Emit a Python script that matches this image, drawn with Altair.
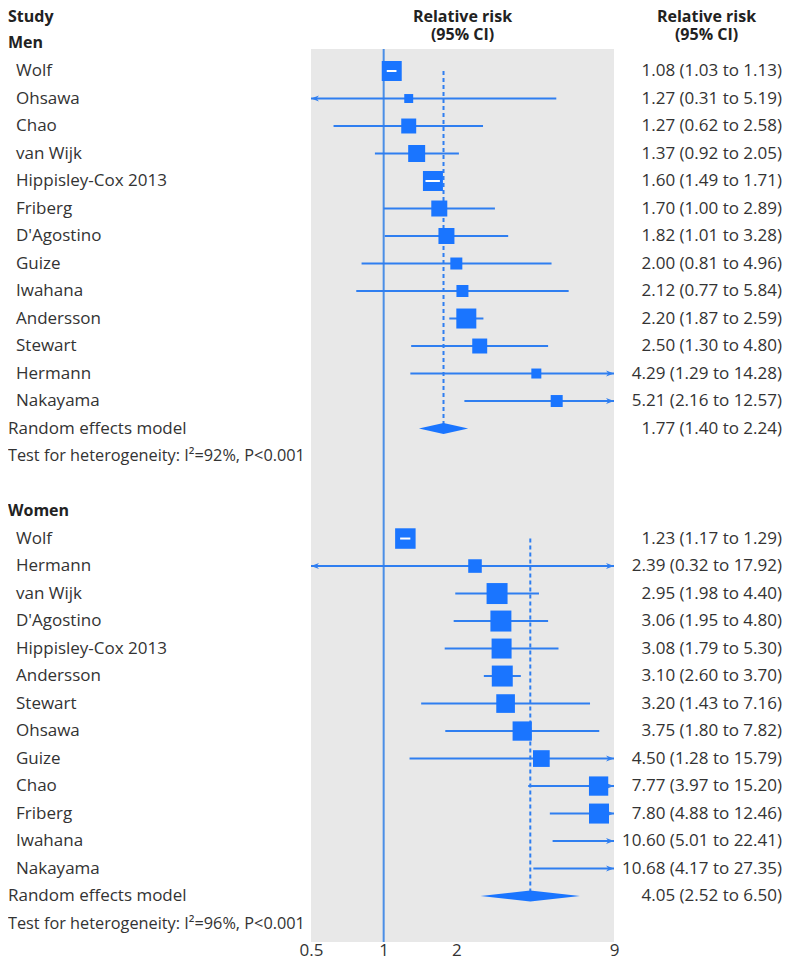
import math
import altair as alt
import pandas as pd

FONT = "Open Sans"
FS = 17
FSB = 16
FS_HET = 16.3

# ---------------- data ----------------
men_studies = ["Wolf", "Ohsawa", "Chao", "van Wijk", "Hippisley-Cox 2013", "Friberg",
               "D'Agostino", "Guize", "Iwahana", "Andersson", "Stewart", "Hermann", "Nakayama"]
men_rr = [1.08, 1.27, 1.27, 1.37, 1.60, 1.70, 1.82, 2.00, 2.12, 2.20, 2.50, 4.29, 5.21]
men_lo = [1.03, 0.31, 0.62, 0.92, 1.49, 1.00, 1.01, 0.81, 0.77, 1.87, 1.30, 1.29, 2.16]
men_hi = [1.13, 5.19, 2.58, 2.05, 1.71, 2.89, 3.28, 4.96, 5.84, 2.59, 4.80, 14.28, 12.57]
men_weight = [10.0, 2.0, 5.6, 7.2, 10.0, 6.4, 6.4, 3.6, 3.6, 10.0, 5.6, 2.5, 3.6]

women_studies = ["Wolf", "Hermann", "van Wijk", "D'Agostino", "Hippisley-Cox 2013", "Andersson",
                 "Stewart", "Ohsawa", "Guize", "Chao", "Friberg", "Iwahana", "Nakayama"]
women_rr = [1.23, 2.39, 2.95, 3.06, 3.08, 3.10, 3.20, 3.75, 4.50, 7.77, 7.80, 10.60, 10.68]
women_lo = [1.17, 0.32, 1.98, 1.95, 1.79, 2.60, 1.43, 1.80, 1.28, 3.97, 4.88, 5.01, 4.17]
women_hi = [1.29, 17.92, 4.40, 4.80, 5.30, 3.70, 7.16, 7.82, 15.79, 15.20, 12.46, 22.41, 27.35]
women_weight = [10.5, 4.6, 11.0, 11.0, 10.0, 11.0, 8.7, 9.3, 7.0, 9.3, 10.0, 6.0, 5.0]

groups = ["Men", "Women"]
pooled_rr = [1.77, 4.05]
pooled_lo = [1.40, 2.52]
pooled_hi = [2.24, 6.50]
het_text = ["Test for heterogeneity: I\u00b2=92%, P<0.001",
            "Test for heterogeneity: I\u00b2=96%, P<0.001"]
col_headers = ["Study", "Relative risk", "(95% CI)"]
axis_ticks = [0.5, 1, 2, 9]
x_domain = [0.5, 9]

# ---------------- layout constants ----------------
LEFT_W, MID_W, RIGHT_W, H = 303, 303, 168, 932
Y_DOMAIN = [-2.218, 31.67]
GREY_ROWS = [-0.8, 31.67]
HEAD_ROWS = [-1.97, -1.31]
SIZE_MAX_W, SIZE_MAX_AREA = 10.0, 400.0
PX_PER_LOG = MID_W / math.log(x_domain[1] / x_domain[0])

# ---------------- tables ----------------
label_rows, study_rows, pooled_rows, diamond_rows = [], [], [], []
r = -1
group_data = [
    (men_studies, men_rr, men_lo, men_hi, men_weight),
    (women_studies, women_rr, women_lo, women_hi, women_weight),
]
for gi, (names, rrs, los, his, ws) in enumerate(group_data):
    g = groups[gi]
    label_rows.append(dict(row=r, label=g, kind="header"))
    r += 1
    first = r
    for n, rr, lo, hi, w in zip(names, rrs, los, his, ws):
        side = math.sqrt(SIZE_MAX_AREA * w / SIZE_MAX_W)
        inside = math.log(hi / lo) * PX_PER_LOG < side - 2
        study_rows.append(dict(row=r, group=g, rr=rr, lo=lo, hi=hi, weight=w,
                               inside=inside,
                               txt=f"{rr:.2f} ({lo:.2f} to {hi:.2f})"))
        label_rows.append(dict(row=r, label=n, kind="study"))
        r += 1
    pooled_rows.append(dict(row=r, top=first, group=g, rr=pooled_rr[gi], lo=pooled_lo[gi],
                            hi=pooled_hi[gi],
                            txt=f"{pooled_rr[gi]:.2f} ({pooled_lo[gi]:.2f} to {pooled_hi[gi]:.2f})"))
    for xv, dy in [(pooled_lo[gi], 0.0), (pooled_rr[gi], 0.2), (pooled_hi[gi], 0.0)]:
        diamond_rows.append(dict(group=g, x=xv, y1=r - dy, y2=r + dy))
    label_rows.append(dict(row=r, label="Random effects model", kind="summary"))
    r += 1
    label_rows.append(dict(row=r, label=het_text[gi], kind="het"))
    r += 2

labels = pd.DataFrame(label_rows)
studies = pd.DataFrame(study_rows)
pooled = pd.DataFrame(pooled_rows)
diamonds = pd.DataFrame(diamond_rows)
heads_left = pd.DataFrame({"row": [HEAD_ROWS[0]], "label": [col_headers[0]]})
heads_rr = pd.DataFrame({"row": HEAD_ROWS, "label": col_headers[1:]})
grey = pd.DataFrame({"y1": [GREY_ROWS[0]], "y2": [GREY_ROWS[1]]})

BLUE = "#1a75ff"
LINE = "#2f7ef0"
NULL = "#4a8ee6"
TXT = "#333333"
HEAD = "#222222"

yscale = alt.Scale(domain=Y_DOMAIN, reverse=True, nice=False, zero=False)
xscale = alt.Scale(type="log", domain=x_domain, clamp=True, nice=False)


def Y(field="row"):
    return alt.Y(f"{field}:Q", scale=yscale, axis=None)


def head_text(df, xpos, align):
    return alt.Chart(df).mark_text(
        align=align, baseline="middle", font=FONT, fontSize=FSB, fontWeight="bold", color=HEAD
    ).encode(x=alt.value(xpos), y=Y(), text="label:N")


# ---------------- left panel ----------------
lt = alt.Chart(labels)
left = alt.layer(
    head_text(heads_left, 0, "left"),
    lt.transform_filter("datum.kind == 'header'").mark_text(
        align="left", baseline="middle", font=FONT, fontSize=FSB, fontWeight="bold", color=HEAD
    ).encode(x=alt.value(0), y=Y(), text="label:N"),
    lt.transform_filter("datum.kind == 'study'").mark_text(
        align="left", baseline="middle", font=FONT, fontSize=FS, color=TXT
    ).encode(x=alt.value(8), y=Y(), text="label:N"),
    lt.transform_filter("datum.kind == 'summary'").mark_text(
        align="left", baseline="middle", font=FONT, fontSize=FS, color=TXT
    ).encode(x=alt.value(0), y=Y(), text="label:N"),
    lt.transform_filter("datum.kind == 'het'").mark_text(
        align="left", baseline="middle", font=FONT, fontSize=FS_HET, color=TXT
    ).encode(x=alt.value(0), y=Y(), text="label:N"),
).properties(width=LEFT_W, height=H)

# ---------------- middle panel ----------------
X = lambda f: alt.X(f"{f}:Q", scale=xscale,
                    axis=alt.Axis(values=axis_ticks, title=None, labelFlush=False, domain=False,
                                  grid=False, ticks=False, labelPadding=0, labelFont=FONT,
                                  labelFontSize=FS, labelColor=TXT, format="~g"))

bg = alt.Chart(grey).mark_rect(color="#e8e8e8").encode(
    x=alt.value(0), x2=alt.value(MID_W), y=Y("y1"), y2="y2:Q")
null_line = alt.Chart(pd.DataFrame({"x": [1], "y1": [GREY_ROWS[0]], "y2": [GREY_ROWS[1]]})).mark_rule(
    color=NULL, strokeWidth=2).encode(x=X("x"), y=Y("y1"), y2="y2:Q")
dashed = alt.Chart(pooled).mark_rule(color=LINE, strokeWidth=2, strokeDash=[4, 3]).encode(
    x=X("rr"), y=Y("top"), y2="row:Q")
ci = alt.Chart(studies).mark_rule(color=LINE, strokeWidth=2).encode(x=X("lo"), x2="hi:Q", y=Y())
arrow_r = alt.Chart(studies).transform_filter(f"datum.hi > {x_domain[1]}").mark_point(
    shape="M0,0 L-2,-0.75 L-1.4,0 L-2,0.75 Z", filled=True, size=64, color=LINE, opacity=1
).encode(x=X("hi"), y=Y())
arrow_l = alt.Chart(studies).transform_filter(f"datum.lo < {x_domain[0]}").mark_point(
    shape="M0,0 L2,-0.75 L1.4,0 L2,0.75 Z", filled=True, size=64, color=LINE, opacity=1
).encode(x=X("lo"), y=Y())
squares = alt.Chart(studies).transform_filter(f"datum.rr <= {x_domain[1]}").mark_square(
    color=BLUE, opacity=1
).encode(x=X("rr"), y=Y(),
         size=alt.Size("weight:Q", scale=alt.Scale(domain=[0, SIZE_MAX_W], range=[0, SIZE_MAX_AREA]),
                       legend=None))
inner = alt.Chart(studies).transform_filter("datum.inside").mark_rule(
    color="white", strokeWidth=2).encode(x=X("lo"), x2="hi:Q", y=Y())
diamond = alt.Chart(diamonds).mark_area(orient="vertical", color=BLUE, opacity=1).encode(
    x=X("x"), y=Y("y1"), y2="y2:Q", detail="group:N")

middle = alt.layer(bg, null_line, dashed, ci, arrow_r, arrow_l, squares, inner, diamond,
                   head_text(heads_rr, MID_W / 2, "center")).properties(width=MID_W, height=H)

# ---------------- right panel ----------------
right_df = pd.concat([studies[["row", "txt"]], pooled[["row", "txt"]]])
right = alt.layer(
    alt.Chart(right_df).mark_text(
        align="right", baseline="middle", font=FONT, fontSize=FS, color=TXT
    ).encode(x=alt.value(RIGHT_W), y=Y(), text="txt:N"),
    head_text(heads_rr, 92.5, "center"),
).properties(width=RIGHT_W, height=H)

chart = alt.hconcat(left, middle, right, spacing=0, bounds="flush").properties(
    padding=0).configure_view(strokeWidth=0)

chart.save("out.html", embed_options={"renderer": "svg", "actions": False})
